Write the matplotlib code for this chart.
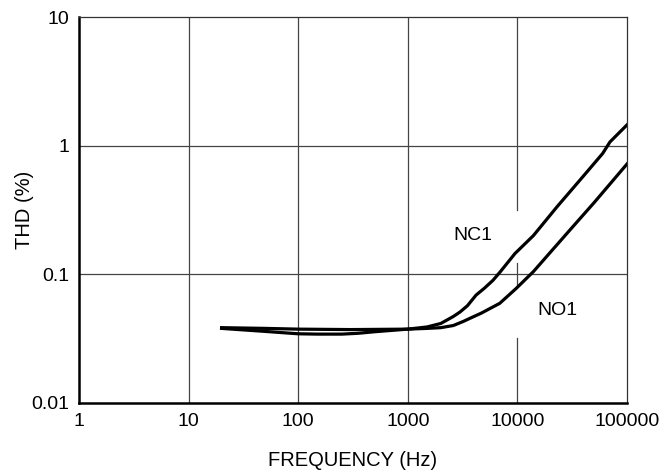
"""THD vs frequency for the NC1 and NO1 switch paths."""

import matplotlib
matplotlib.use("Agg")
import matplotlib.pyplot as plt

plt.rcParams["font.family"] = ["Liberation Sans", "DejaVu Sans"]

# values
nc1_freq = [20, 50, 100, 300, 1000, 1500, 2000, 2600, 3000, 3500, 4200, 5000,
            6000, 7000, 9500, 14000, 23000, 40000, 60000, 70000, 100000]
nc1_thd = [0.0385, 0.038, 0.0375, 0.0372, 0.0375, 0.039, 0.0415, 0.047, 0.051,
           0.057, 0.069, 0.078, 0.090, 0.105, 0.145, 0.20, 0.335, 0.58, 0.87,
           1.07, 1.45]

no1_freq = [20, 50, 100, 150, 250, 350, 500, 1000, 1500, 2000, 2600, 3200,
            3900, 4700, 6900, 9800, 14000, 30000, 50000, 100000]
no1_thd = [0.038, 0.036, 0.0345, 0.0343, 0.0343, 0.0348, 0.0358, 0.0375,
           0.038, 0.0385, 0.040, 0.043, 0.0465, 0.050, 0.0595, 0.078, 0.105,
           0.22, 0.36, 0.72]

x_ticks = [1, 10, 100, 1000, 10000, 100000]
x_labels = ["1", "10", "100", "1000", "10000", "100000"]
y_ticks = [0.01, 0.1, 1, 10]
y_labels = ["0.01", "0.1", "1", "10"]

fig = plt.figure(figsize=(6.7, 4.75), dpi=100)
ax = fig.add_axes([0.1179, 0.1516, 0.8179, 0.8126])
ax.set_xscale("log")
ax.set_yscale("log")
ax.set_xlim(1, 100000)
ax.set_ylim(0.01, 10)

grid_kw = dict(color="#444444", lw=0.9, zorder=1)
for y in y_ticks[1:-1]:
    ax.axhline(y, **grid_kw)
for x in x_ticks[1:-1]:
    if x == 10000:
        # the source leaves gaps in this line around the curves
        for lo, hi in [(0.0, 0.168), (0.303, 0.363), (0.5, 1.0)]:
            ax.axvline(x, ymin=lo, ymax=hi, **grid_kw)
    else:
        ax.axvline(x, **grid_kw)

ax.plot(nc1_freq, nc1_thd, color="black", lw=2.3, zorder=3)
ax.plot(no1_freq, no1_thd, color="black", lw=2.3, zorder=3)

ax.text(3935, 0.2018, "NC1", fontsize=14, ha="center", va="center")
ax.text(22970, 0.0519, "NO1", fontsize=14, ha="center", va="center")

ax.set_xticks(x_ticks)
ax.set_xticklabels(x_labels)
ax.set_yticks(y_ticks)
ax.set_yticklabels(y_labels)
ax.minorticks_off()
ax.tick_params(length=0, labelsize=14, pad=7)

for side in ["left", "bottom"]:
    ax.spines[side].set_linewidth(1.8)
for side in ["top", "right"]:
    ax.spines[side].set_linewidth(0.9)
    ax.spines[side].set_color("#333333")

ax.set_xlabel("FREQUENCY (Hz)", fontsize=14.5, labelpad=15)
ax.set_ylabel("THD (%)", fontsize=14.5)
ax.yaxis.set_label_coords(-0.082, 0.5)

fig.savefig("out.png", dpi=100)
plt.close(fig)
